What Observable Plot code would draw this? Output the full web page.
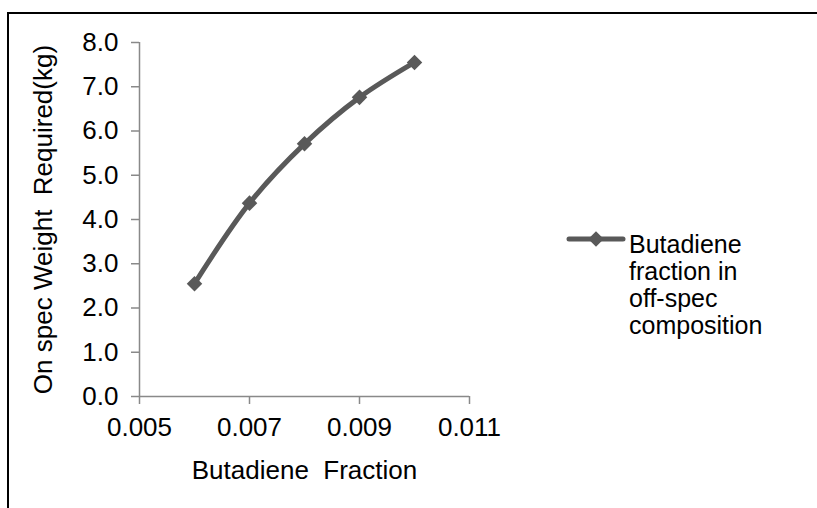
<!DOCTYPE html>
<html>
<head>
<meta charset="utf-8">
<script src="https://cdn.jsdelivr.net/npm/d3@7"></script>
<script src="https://cdn.jsdelivr.net/npm/@observablehq/plot@0.6"></script>
<style>
  html, body { margin: 0; padding: 0; background: #fff; overflow: hidden; }
  body { width: 817px; height: 508px; position: relative; font-family: "Liberation Sans", Arial, sans-serif; }
  #frame { position: absolute; left: 7px; top: 12px; width: 900px; height: 600px; border: 2px solid #000; box-sizing: border-box; pointer-events: none; }
  #chart { position: absolute; left: 0; top: 0; }
  #legend { position: absolute; left: 566px; top: 231px; display: flex; align-items: flex-start; font-size: 25px; color: #000; }
  #legend svg { margin-top: -2px; flex: none; }
  #legend .lbl { margin-left: 3px; }
  #legend .lbl div { height: 27px; line-height: 27px; white-space: nowrap; }
</style>
</head>
<body>
<div id="chart"></div>
<div id="frame"></div>
<div id="legend"></div>
<script>
const seriesName = "Butadiene fraction in off-spec composition";
const legendLines = ["Butadiene", "fraction in", "off-spec", "composition"];
const butadieneFraction = [0.006, 0.007, 0.008, 0.009, 0.010];
const onSpecWeight = [2.55, 4.37, 5.71, 6.76, 7.55];
const xTicks = [0.005, 0.007, 0.009, 0.011];
const yTicks = [0, 1, 2, 3, 4, 5, 6, 7, 8];
const xDomain = [0.005, 0.011];
const yDomain = [0, 8];
const xTitle = "Butadiene\u00a0 Fraction";
const yTitle = "On spec Weight\u00a0 Required(kg)";

const data = butadieneFraction.map((x, i) => ({x, y: onSpecWeight[i]}));
const lineColor = "#595959";
const axisColor = "#898989";

const chart = Plot.plot({
  width: 817,
  height: 508,
  marginLeft: 139,
  marginRight: 348,
  marginTop: 42,
  marginBottom: 112,
  style: {fontFamily: "'Liberation Sans', Arial, sans-serif", fontSize: "26px", color: "#000", background: "transparent"},
  x: {domain: xDomain},
  y: {domain: yDomain},
  marks: [
    Plot.ruleY([yDomain[0]], {stroke: axisColor, strokeWidth: 1.5}),
    Plot.ruleX([xDomain[0]], {y1: yDomain[0], y2: yDomain[1], stroke: axisColor, strokeWidth: 1.5}),
    Plot.axisX(xTicks, {tickSize: 8, tickPadding: 13, stroke: axisColor, strokeWidth: 1.5, tickFormat: d3.format(".3f"), label: xTitle, labelAnchor: "center", labelArrow: "none", labelOffset: 82}),
    Plot.axisY(yTicks, {tickSize: 8, tickPadding: 13, stroke: axisColor, strokeWidth: 1.5, tickFormat: d3.format(".1f"), label: yTitle, labelAnchor: "center", labelArrow: "none", labelOffset: 106}),
    Plot.line(data, {x: "x", y: "y", stroke: lineColor, strokeWidth: 5, curve: "catmull-rom"}),
    Plot.dot(data, {x: "x", y: "y", symbol: "diamond2", r: 7, fill: lineColor, stroke: "none"})
  ]
});
document.getElementById("chart").appendChild(chart);

// legend
const legend = document.getElementById("legend");
const sw = d3.create("svg").attr("width", 60).attr("height", 20);
sw.append("line").attr("x1", 3).attr("x2", 57).attr("y1", 10).attr("y2", 10).attr("stroke", lineColor).attr("stroke-width", 5).attr("stroke-linecap", "round");
sw.append("path").attr("d", d3.symbol(d3.symbolDiamond2, Math.PI * 7 * 7)()).attr("transform", "translate(30,10)").attr("fill", lineColor);
legend.appendChild(sw.node());
const lbl = document.createElement("div");
lbl.className = "lbl";
lbl.setAttribute("aria-label", seriesName);
legendLines.forEach(t => {
  const d = document.createElement("div");
  d.textContent = t;
  lbl.appendChild(d);
});
legend.appendChild(lbl);
</script>
</body>
</html>
